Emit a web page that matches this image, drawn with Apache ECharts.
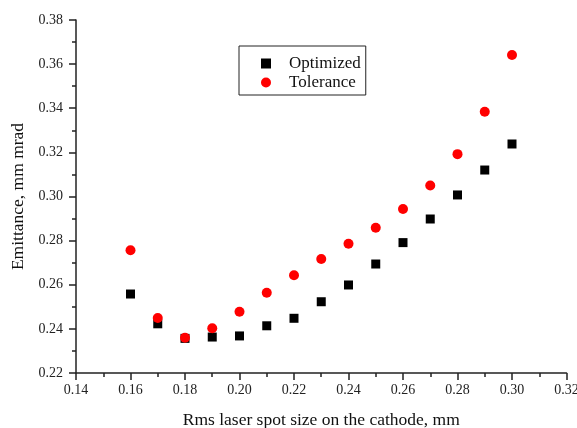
<!DOCTYPE html>
<html>
<head>
<meta charset="utf-8">
<script src="https://cdn.jsdelivr.net/npm/echarts@6/dist/echarts.min.js"></script>
<style>
  html, body { margin: 0; padding: 0; background: #fff; }
  #chart { width: 577px; height: 428px; }
</style>
</head>
<body>
<div id="chart"></div>
<script>
// Rms laser spot size (mm)
const spotSize = [0.16, 0.17, 0.18, 0.19, 0.20, 0.21, 0.22, 0.23, 0.24, 0.25, 0.26, 0.27, 0.28, 0.29, 0.30];
// Emittance (mm mrad)
const optimized = [0.2558, 0.2423, 0.2357, 0.2363, 0.2368, 0.2414, 0.2448, 0.2523, 0.2599, 0.2694, 0.2791, 0.2898, 0.3007, 0.3120, 0.3238];
const tolerance = [0.2756, 0.2449, 0.2360, 0.2403, 0.2478, 0.2564, 0.2643, 0.2717, 0.2786, 0.2858, 0.2943, 0.3050, 0.3192, 0.3384, 0.3641];

const FONT = '"Liberation Serif", "Times New Roman", serif';

const toPairs = (xs, ys) => xs.map((x, i) => [x, ys[i]]);

const axisCommon = {
  axisLine: { show: true, onZero: false, lineStyle: { color: '#222', width: 1.5 } },
  axisTick: { show: true, length: 7, lineStyle: { color: '#222', width: 1.5 } },
  minorTick: { show: true, splitNumber: 2, length: 4, lineStyle: { color: '#222', width: 1.5 } },
  splitLine: { show: false },
  axisLabel: { color: '#222', fontFamily: FONT, fontSize: 14 },
  nameTextStyle: { color: '#111', fontFamily: FONT, fontSize: 17.5 }
};

const chart = echarts.init(document.getElementById('chart'));
chart.setOption({
  animation: false,
  backgroundColor: '#fff',
  grid: { left: 76, right: 10.5, top: 20, bottom: 55, containLabel: false, outerBoundsMode: 'none' },
  xAxis: Object.assign({}, axisCommon, {
    type: 'value',
    min: 0.14, max: 0.32, interval: 0.02,
    name: 'Rms laser spot size on the cathode, mm',
    nameLocation: 'middle', nameGap: 38,
    axisLabel: Object.assign({}, axisCommon.axisLabel, { margin: 10, formatter: v => v.toFixed(2) })
  }),
  yAxis: Object.assign({}, axisCommon, {
    type: 'value',
    min: 0.22, max: 0.38, interval: 0.02,
    name: 'Emittance, mm mrad',
    nameLocation: 'middle', nameGap: 47,
    axisLabel: Object.assign({}, axisCommon.axisLabel, { margin: 13, formatter: v => v.toFixed(2) })
  }),
  legend: {
    orient: 'vertical',
    left: 239, top: 46,
    borderColor: '#222', borderWidth: 1, borderRadius: 0,
    padding: [9, 5, 4, 22],
    itemWidth: 10, itemHeight: 10, itemGap: 2,
    textStyle: { fontFamily: FONT, fontSize: 17, color: '#111', lineHeight: 16, padding: [0, 0, 0, 13] },
    data: [
      { name: 'Optimized', icon: 'rect' },
      { name: 'Tolerance', icon: 'circle' }
    ]
  },
  series: [
    {
      name: 'Optimized', type: 'scatter', symbol: 'rect', symbolSize: 9,
      itemStyle: { color: '#000', opacity: 1 },
      data: toPairs(spotSize, optimized)
    },
    {
      name: 'Tolerance', type: 'scatter', symbol: 'circle', symbolSize: 10,
      itemStyle: { color: '#ff0000', opacity: 1 },
      data: toPairs(spotSize, tolerance)
    }
  ]
});
</script>
</body>
</html>
